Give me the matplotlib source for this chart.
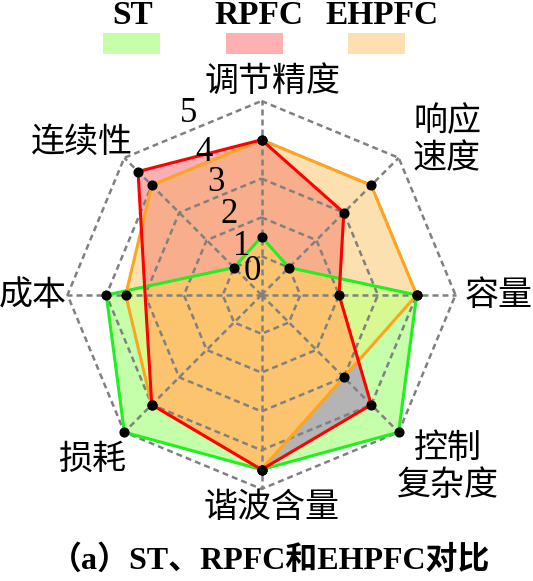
import numpy as np
import matplotlib
matplotlib.use("Agg")
import matplotlib.pyplot as plt
from matplotlib.patches import Rectangle

# ---------------- data ----------------
categories = ["调节精度", "响应\n速度", "容量", "控制\n复杂度", "谐波含量", "损耗", "成本", "连续性"]
series_names = ["ST", "RPFC", "EHPFC"]
st_values = [1.5, 1, 4, 5, 4.5, 5, 4, 1]
rpfc_values = [4, 3, 2, 4, 4.5, 4, 3, 4.5]
ehpfc_values = [4, 4, 4, 3, 4.5, 4, 3.5, 4]
levels = [1, 2, 3, 4, 5]
tick_labels = ["0", "1", "2", "3", "4", "5"]
title = "（a）ST、RPFC和EHPFC对比"

# ---------------- style ----------------
W, H = 533, 581
plt.rcParams["lines.scale_dashes"] = False
CJK = ["Noto Sans CJK SC", "DejaVu Sans"]
SERIF = ["Liberation Serif", "Noto Sans CJK SC", "DejaVu Sans"]

line_colors = {"ST": "#22ee22", "RPFC": "#ff0000", "EHPFC": "#ffa41e"}
legend_colors = {"ST": "#c6ffaa", "RPFC": "#ffb0b0", "EHPFC": "#fde0b0"}
c_S, c_R, c_E = "#c6ffaa", "#f8b0b4", "#fde0b0"
c_SE, c_SR, c_RE, c_SRE = "#d8f890", "#b4b4b4", "#f8ae8c", "#fcc46e"
grid_color = "#808080"

fig = plt.figure(figsize=(W / 100, H / 100), dpi=100)
cx, cy, R5 = 261.5, 295.0, 194.0
ax = fig.add_axes([(cx - R5) / W, (H - cy - R5) / H, 2 * R5 / W, 2 * R5 / H],
                  projection="polar")
ax.set_theta_offset(np.pi / 2)
ax.set_theta_direction(-1)
ax.set_ylim(0, max(levels))
ax.axis("off")

n = len(categories)
theta = np.arange(n) * 2 * np.pi / n


def closed(v):
    v = list(v)
    return v + v[:1]


def star_min(th, ra, rb):
    """Intersection of two star polygons that share vertex angles."""
    out_t, out_r = [], []
    m = len(th)
    for i in range(m):
        j = (i + 1) % m
        out_t.append(th[i])
        out_r.append(min(ra[i], rb[i]))
        da, db = ra[i] - rb[i], ra[j] - rb[j]
        if da * db < 0:
            p1 = np.array([ra[i] * np.cos(th[i]), ra[i] * np.sin(th[i])])
            p2 = np.array([ra[j] * np.cos(th[j]), ra[j] * np.sin(th[j])])
            q1 = np.array([rb[i] * np.cos(th[i]), rb[i] * np.sin(th[i])])
            q2 = np.array([rb[j] * np.cos(th[j]), rb[j] * np.sin(th[j])])
            A = np.column_stack([p2 - p1, -(q2 - q1)])
            s, _ = np.linalg.solve(A, q1 - p1)
            pt = p1 + s * (p2 - p1)
            out_t.append(np.arctan2(pt[1], pt[0]))
            out_r.append(np.hypot(pt[0], pt[1]))
    return out_t, out_r


def fill(th, r, color, clip=None, z=1.0):
    p = ax.fill(closed(th), closed(r), facecolor=color, edgecolor="none", zorder=z)[0]
    if clip is not None:
        p.set_clip_path(clip)
    return p


clipR = ax.fill(closed(theta), closed(rpfc_values), facecolor="none", edgecolor="none")[0]
clipE = ax.fill(closed(theta), closed(ehpfc_values), facecolor="none", edgecolor="none")[0]

fill(theta, st_values, c_S, z=1.0)
fill(theta, ehpfc_values, c_E, z=1.1)
fill(theta, rpfc_values, c_R, z=1.2)
fill(theta, st_values, c_SE, clip=clipE, z=1.3)
fill(theta, st_values, c_SR, clip=clipR, z=1.4)
fill(theta, rpfc_values, c_RE, clip=clipE, z=1.5)
t_sr, r_sr = star_min(theta, st_values, rpfc_values)
fill(t_sr, r_sr, c_SRE, clip=clipE, z=1.6)

# grid
for lv in levels:
    ax.plot(closed(theta), [lv] * (n + 1), color=grid_color, lw=1.8,
            dashes=(4.3, 2.9), zorder=3, clip_on=False)
for t in theta:
    ax.plot([t, t], [0, max(levels)], color=grid_color, lw=1.8,
            dashes=(4.3, 2.9), zorder=3, clip_on=False)

# series lines
for name, vals, z in [("ST", st_values, 4.0), ("EHPFC", ehpfc_values, 4.1),
                      ("RPFC", rpfc_values, 4.2)]:
    ax.plot(closed(theta), closed(vals), color=line_colors[name], lw=2.2,
            zorder=z, clip_on=False, solid_joinstyle="miter")

# points
marks = {"ST": list(range(n)), "RPFC": [i for i in range(n) if i != 6],
         "EHPFC": list(range(n))}
for name, vals in [("ST", st_values), ("EHPFC", ehpfc_values), ("RPFC", rpfc_values)]:
    ax.plot(theta, vals, ls="none", marker="o", ms=6.3, color="black",
            markevery=marks[name], zorder=5, clip_on=False)

# radial tick labels
label_r = [0.64, 1.36, 2.25, 3.13, 3.96, 5.04]
for lab, rr in zip(tick_labels, label_r):
    ax.text(np.deg2rad(-22), rr, lab, family=SERIF, fontsize=25,
            ha="center", va="center", zorder=6)

# category labels (pixel centres)
cat_pos = [(272.5, 81), (447, 140), (499, 295), (448, 467),
           (271.5, 508), (92, 459), (33, 295), (82, 142.5)]
for lab, (px, py) in zip(categories, cat_pos):
    fig.text(px / W, 1 - py / H, lab, family=CJK, fontsize=24.5,
             ha="center", va="center", linespacing=1.1)

# legend
leg_text_x = [133, 259, 382]
leg_patch_x = [131.5, 254, 376]
for name, tx, pxc in zip(series_names, leg_text_x, leg_patch_x):
    fig.text(tx / W, 1 - 16 / H, name, family=SERIF, fontsize=24,
             fontweight="bold", ha="center", va="center")
    fig.patches.append(Rectangle(((pxc - 28.5) / W, 1 - 53.5 / H), 57 / W, 20.5 / H,
                                 transform=fig.transFigure, facecolor=legend_colors[name],
                                 edgecolor="none"))

fig.text(270 / W, 1 - 560 / H, title, family=SERIF, fontsize=23,
         fontweight="bold", ha="center", va="center")

fig.savefig("out.png", dpi=100)
